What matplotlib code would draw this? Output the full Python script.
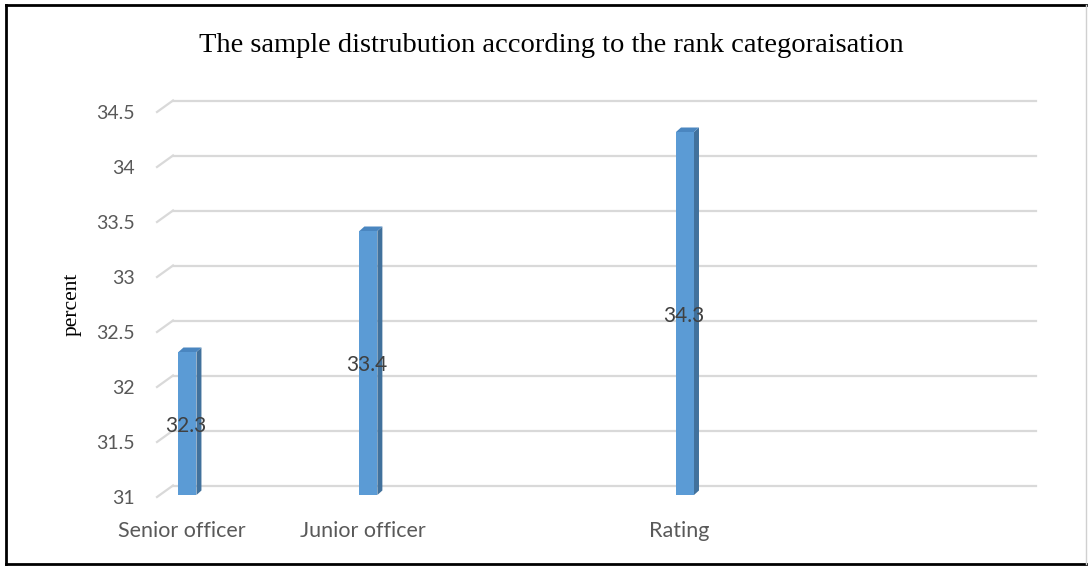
import matplotlib
matplotlib.use("Agg")
import matplotlib.pyplot as plt
from matplotlib.patches import Polygon, Rectangle
from matplotlib.lines import Line2D
from matplotlib.transforms import ScaledTranslation

# Data
categories = ["Senior officer", "Junior officer", "Rating"]
values = [32.3, 33.4, 34.3]
positions = [0.0, 1.0, 2.75]
y_ticks = [31, 31.5, 32, 32.5, 33, 33.5, 34, 34.5]
y_tick_labels = ["31", "31.5", "32", "32.5", "33", "33.5", "34", "34.5"]

title = "The sample distrubution according to the rank categoraisation"
y_label = "percent"

# Styling
W, H, DPI = 1088, 566, 100
front_col = "#5B9BD5"
side_col = "#41719C"
top_col = "#4A86C0"
grid_col = "#D9D9D9"
text_col = "#595959"
label_col = "#404040"
sans = ["Lato", "DejaVu Sans"]
serif = ["Liberation Serif", "DejaVu Serif"]

fig = plt.figure(figsize=(W / DPI, H / DPI), dpi=DPI)
fig.patch.set_facecolor("white")

# Front plane of the plot area, in pixels
left_px, right_px = 157, 1020
bottom_px, top_px = 497, 112
ax = fig.add_axes([left_px / W, 1 - bottom_px / H,
                   (right_px - left_px) / W, (bottom_px - top_px) / H])
xlim = (-0.16, 4.61)
ylim = (31, 34.5)
ax.set_xlim(*xlim)
ax.set_ylim(*ylim)
for s in ax.spines.values():
    s.set_visible(False)
ax.set_facecolor("none")

# pixel -> data conversion
px_x = (right_px - left_px) / (xlim[1] - xlim[0])
px_y = (bottom_px - top_px) / (ylim[1] - ylim[0])

def dx(p):
    return p / px_x

def dy(p):
    return p / px_y

# Wall depth of the 3D plot area
wall_dx, wall_dy = dx(16), dy(11.5)

# Gridlines: slanted floor edge + back-wall line
for v in y_ticks:
    ax.add_line(Line2D([xlim[0], xlim[0] + wall_dx], [v, v + wall_dy],
                       color=grid_col, lw=1.6, clip_on=False, zorder=1))
    ax.add_line(Line2D([xlim[0] + wall_dx, xlim[1] + wall_dx],
                       [v + wall_dy, v + wall_dy],
                       color=grid_col, lw=1.6, clip_on=False, zorder=1))

# 3D columns
bar_w = dx(18)
f_dx, f_dy = dx(1.5), dy(2)       # front face offset from the front plane
d_dx, d_dy = dx(5), dy(4.5)        # column depth
for x, v in zip(positions, values):
    x0 = x - bar_w / 2 + f_dx
    x1 = x + bar_w / 2 + f_dx
    y0 = ylim[0] + f_dy
    y1 = v + f_dy
    ax.add_patch(Polygon([(x1, y0), (x1 + d_dx, y0 + d_dy),
                          (x1 + d_dx, y1 + d_dy), (x1, y1)],
                         closed=True, facecolor=side_col, edgecolor="none",
                         clip_on=False, zorder=3))
    ax.add_patch(Polygon([(x0, y1), (x1, y1), (x1 + d_dx, y1 + d_dy),
                          (x0 + d_dx, y1 + d_dy)],
                         closed=True, facecolor=top_col, edgecolor="none",
                         clip_on=False, zorder=3))
    ax.add_patch(Rectangle((x0, y0), x1 - x0, y1 - y0, facecolor=front_col,
                           edgecolor="none", clip_on=False, zorder=4))
    ax.text(x, (ylim[0] + v) / 2, f"{v}", ha="center", va="center",
            fontsize=15, color=label_col, family=sans, zorder=5)

# Axes ticks
ax.set_yticks(y_ticks)
ax.set_yticklabels(y_tick_labels, family=sans, fontsize=14, color=text_col)
ax.set_xticks(positions)
ax.set_xticklabels(categories, family=sans, fontsize=15.5, color=text_col)
ax.tick_params(axis="y", length=0, pad=16)
ax.tick_params(axis="x", length=0, pad=17)
shift = ScaledTranslation(-4 / DPI, 0, fig.dpi_scale_trans)
for lbl in ax.get_xticklabels():
    lbl.set_transform(lbl.get_transform() + shift)

# Title and axis label
fig.text(551 / W, 1 - 45 / H, title, ha="center", va="center",
         fontsize=20.5, family=serif, color="black")
fig.text(72 / W, 1 - 304 / H, y_label, ha="center", va="center",
         rotation=90, fontsize=15.5, family=serif, color="black")

# Chart border
fig.add_artist(Line2D([6 / W, 6 / W], [1 - 5 / H, 1 - 564 / H],
                      color="black", lw=2, transform=fig.transFigure))
fig.add_artist(Line2D([6 / W, 1086 / W], [1 - 5 / H, 1 - 5 / H],
                      color="black", lw=2, transform=fig.transFigure))
fig.add_artist(Line2D([6 / W, 1086 / W], [1 - 564 / H, 1 - 564 / H],
                      color="black", lw=2, transform=fig.transFigure))
fig.add_artist(Line2D([1086 / W, 1086 / W], [1 - 5 / H, 1 - 564 / H],
                      color="#D0D0D0", lw=1, transform=fig.transFigure))

fig.savefig("out.png", dpi=DPI)
